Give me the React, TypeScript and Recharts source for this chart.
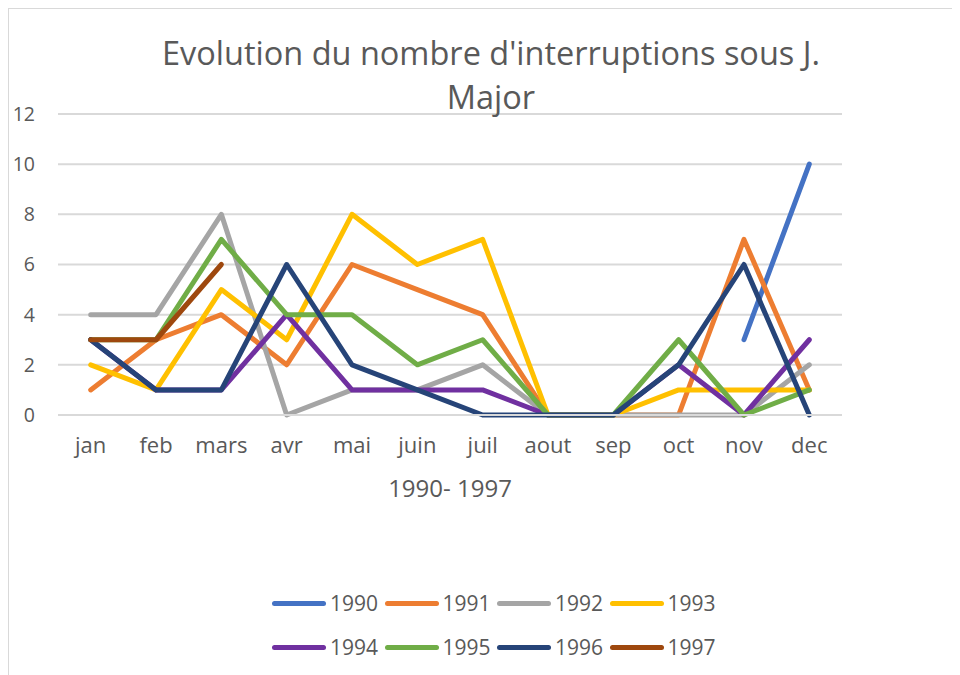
import { LineChart, Line, XAxis, YAxis, CartesianGrid, Legend, Label, Customized } from 'recharts';

const months = ['jan', 'feb', 'mars', 'avr', 'mai', 'juin', 'juil', 'aout', 'sep', 'oct', 'nov', 'dec'];

const y1990 = [null, null, null, null, null, null, null, null, null, null, 3, 10];
const y1991 = [1, 3, 4, 2, 6, 5, 4, 0, 0, 0, 7, 1];
const y1992 = [4, 4, 8, 0, 1, 1, 2, 0, 0, 0, 0, 2];
const y1993 = [2, 1, 5, 3, 8, 6, 7, 0, 0, 1, 1, 1];
const y1994 = [3, 1, 1, 4, 1, 1, 1, 0, 0, 2, 0, 3];
const y1995 = [3, 3, 7, 4, 4, 2, 3, 0, 0, 3, 0, 1];
const y1996 = [3, 1, 1, 6, 2, 1, 0, 0, 0, 2, 6, 0];
const y1997 = [3, 3, 6, null, null, null, null, null, null, null, null, null];

const yTicks = [0, 2, 4, 6, 8, 10, 12];

const series = [
  { key: '1990', values: y1990, color: '#4472C4' },
  { key: '1991', values: y1991, color: '#ED7D31' },
  { key: '1992', values: y1992, color: '#A5A5A5' },
  { key: '1993', values: y1993, color: '#FFC000' },
  { key: '1994', values: y1994, color: '#7030A0' },
  { key: '1995', values: y1995, color: '#70AD47' },
  { key: '1996', values: y1996, color: '#264478' },
  { key: '1997', values: y1997, color: '#9E480E' },
];

const data = months.map((m, i) => {
  const row: Record<string, string | number | null> = { month: m };
  series.forEach((s) => {
    row[s.key] = s.values[i];
  });
  return row;
});

const FONT = '"Open Sans", "Noto Sans", sans-serif';
const TEXT = '#595959';

function Title() {
  return (
    <g>
      <text x={482} y={43} textAnchor="middle" dominantBaseline="central" fontSize={32.5} fill={TEXT} fontFamily={FONT}>
        Evolution du nombre d'interruptions sous J.
      </text>
      <text x={482} y={87} textAnchor="middle" dominantBaseline="central" fontSize={32.5} fill={TEXT} fontFamily={FONT}>
        Major
      </text>
    </g>
  );
}

function LegendRows() {
  const rows = [series.slice(0, 4), series.slice(4)];
  return (
    <div style={{ fontFamily: FONT, color: TEXT, fontSize: 21 }}>
      {rows.map((row, r) => (
        <div key={r} style={{ display: 'flex', height: 44, alignItems: 'center' }}>
          {row.map((s) => (
            <div key={s.key} style={{ display: 'flex', alignItems: 'center', width: 112.5 }}>
              <span
                style={{
                  display: 'inline-block',
                  width: 54,
                  height: 5,
                  borderRadius: 3,
                  background: s.color,
                  marginRight: 4,
                }}
              />
              <span>{s.key}</span>
            </div>
          ))}
        </div>
      ))}
    </div>
  );
}

export default function App() {
  return (
    <div style={{ width: 960, height: 675, border: '1px solid #d9d9d9', background: '#fff', position: 'relative' }}>
      <LineChart width={951} height={666} data={data} margin={{ top: 105, right: 118, bottom: 170, left: 0 }}>
        <CartesianGrid vertical={false} stroke="#d9d9d9" strokeWidth={2} />
        <XAxis
          dataKey="month"
          height={90}
          padding={{ left: 32.7, right: 32.7 }}
          axisLine={{ stroke: '#d9d9d9', strokeWidth: 2 }}
          tickLine={false}
          tickMargin={16}
          tick={{ fill: TEXT, fontSize: 22, fontFamily: FONT }}
        >
          <Label value="1990- 1997" position="insideBottom" offset={8} fill={TEXT} fontSize={24} fontFamily={FONT} />
        </XAxis>
        <YAxis
          width={49}
          domain={[0, 12]}
          ticks={yTicks}
          axisLine={false}
          tickLine={false}
          tickMargin={17}
          tick={{ fill: TEXT, fontSize: 19.5, fontFamily: FONT }}
        />
        <Legend
          layout="vertical"
          align="center"
          verticalAlign="middle"
          wrapperStyle={{ top: 572, left: 263, width: 470 }}
          content={() => <LegendRows />}
        />
        {series.map((s) => (
          <Line
            key={s.key}
            dataKey={s.key}
            stroke={s.color}
            strokeWidth={5}
            strokeLinecap="round"
            strokeLinejoin="round"
            dot={false}
            activeDot={false}
            isAnimationActive={false}
          />
        ))}
        <Customized component={Title} />
      </LineChart>
    </div>
  );
}
